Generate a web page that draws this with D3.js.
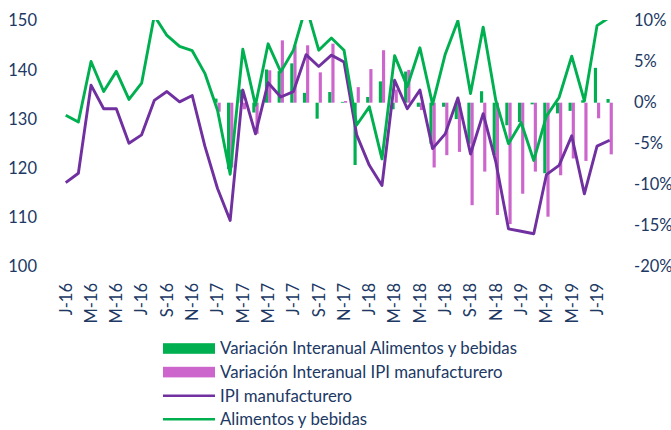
<!DOCTYPE html>
<html>
<head>
<meta charset="utf-8">
<script src="https://cdn.jsdelivr.net/npm/d3@7"></script>
<style>
  body { margin: 0; background: #fff; }
  text { font-family: Lato, "Open Sans", sans-serif; fill: #203864; }
</style>
</head>
<body>
<div id="chart-area"></div>
<script>
// monthly categories, Jan-16 .. Aug-19
var months = ["J-16","F-16","M-16","A-16","M-16","J-16","J-16","A-16","S-16","O-16","N-16","D-16",
              "J-17","F-17","M-17","A-17","M-17","J-17","J-17","A-17","S-17","O-17","N-17","D-17",
              "J-18","F-18","M-18","A-18","M-18","J-18","J-18","A-18","S-18","O-18","N-18","D-18",
              "J-19","F-19","M-19","A-19","M-19","J-19","J-19","A-19"];

// index values (left axis)
var ipi = [117.1,119.0,136.9,132.1,132.1,125.1,126.8,133.8,135.6,133.5,134.8,124.5,
           115.9,109.4,135.9,127.0,137.4,134.5,135.6,143.1,140.7,143.0,141.6,126.8,
           120.6,116.5,137.9,132.1,135.9,124.0,127.0,134.3,122.9,131.1,121.3,107.7,
           107.2,106.7,118.7,120.6,126.6,114.8,124.5,125.7];
var alimentos = [130.8,129.4,141.7,135.6,139.7,134.0,137.3,151.0,147.0,144.8,143.9,139.3,
                 131.8,118.8,144.2,132.8,145.3,139.6,144.0,153.0,144.0,146.5,144.0,128.8,
                 132.5,121.9,142.9,136.6,144.5,133.0,143.2,150.0,135.2,148.7,133.8,125.0,
                 129.3,121.6,130.6,134.4,142.8,133.7,149.0,150.7];

// year-on-year variation in % (right axis), no data for 2016
var varAlimentos = [null,null,null,null,null,null,null,null,null,null,null,null,
                    0.5,-8.1,1.6,-1.2,4.05,3.85,4.8,1.2,-1.95,1.3,0.1,-7.6,
                    0.7,2.6,-0.8,3.8,-0.5,-5.0,-0.5,-2.0,-5.0,1.4,-6.4,-2.75,
                    -2.35,-0.2,-8.6,-1.3,-1.0,0.3,4.25,0.45];
var varIpi = [null,null,null,null,null,null,null,null,null,null,null,null,
              -1.1,-7.9,-0.8,-3.8,3.95,7.6,7.0,7.0,3.7,7.2,0.2,1.9,
              4.1,6.4,1.6,4.0,-0.9,-7.9,-6.4,-6.0,-12.5,-8.4,-13.7,-14.8,
              -11.1,-8.4,-13.9,-8.85,-6.8,-7.1,-1.9,-6.3];

var leftTicks = [100,110,120,130,140,150];
var rightTicks = [-20,-15,-10,-5,0,5,10];

var legendItems = [
  {name: "Variación Interanual Alimentos y bebidas", color: "#00B050", type: "bar"},
  {name: "Variación Interanual IPI manufacturero", color: "#CC66CC", type: "bar"},
  {name: "IPI manufacturero", color: "#7030A0", type: "line"},
  {name: "Alimentos y bebidas", color: "#00B050", type: "line"}
];

var width = 671, height = 430;
var plot = {left: 59.4, right: 616, top: 20.7, bottom: 266.7};

var svg = d3.select("#chart-area").append("svg")
	.attr("width", width)
	.attr("height", height);

var keys = months.map(function(m, i) { return i; });

var x = d3.scaleBand().domain(keys).range([plot.left, plot.right]).padding(0);
var bw = x.bandwidth();
var xSub = d3.scaleBand().domain(["ali","ipi"]).range([bw/4, 3*bw/4]).padding(0);

var yLeft = d3.scaleLinear().domain([100, 150]).range([plot.bottom, plot.top]);
var yRight = d3.scaleLinear().domain([-20, 10]).range([plot.bottom, plot.top]);

svg.append("clipPath").attr("id", "clip")
	.append("rect")
	.attr("x", 0).attr("y", plot.top - 0.7)
	.attr("width", width).attr("height", plot.bottom - plot.top + 10);

// axes
var yAxisL = d3.axisLeft(yLeft).tickValues(leftTicks).tickSize(0).tickPadding(0);
var gl = svg.append("g").attr("transform", "translate(37,0)").call(yAxisL);
gl.select(".domain").remove();
gl.selectAll("text").style("font-size", "16.5px").style("font-family", "Lato").attr("fill", "#203864");

var yAxisR = d3.axisRight(yRight).tickValues(rightTicks).tickSize(0).tickPadding(0)
	.tickFormat(function(d) { return d + "%"; });
var gr = svg.append("g").attr("transform", "translate(634,0)").call(yAxisR);
gr.select(".domain").remove();
gr.selectAll("text").style("font-size", "16.5px").style("font-family", "Lato").attr("fill", "#203864");

var xAxis = d3.axisBottom(x)
	.tickValues(keys.filter(function(i) { return i % 2 === 0; }))
	.tickSize(0).tickPadding(0)
	.tickFormat(function(i) { return months[i]; });
var gx = svg.append("g").attr("transform", "translate(0,283)").call(xAxis);
gx.select(".domain").remove();
gx.selectAll("text")
	.attr("transform", "rotate(-90)")
	.attr("text-anchor", "end")
	.attr("x", 0).attr("y", 0).attr("dy", "0.35em")
	.style("font-size", "16.5px").style("font-family", "Lato").attr("fill", "#203864");

// bars
var bars = svg.append("g");
bars.selectAll("rect.ali")
	.data(keys.filter(function(i) { return varAlimentos[i] !== null; }))
	.enter().append("rect")
	.attr("class", "ali")
	.attr("x", function(i) { return x(i) + xSub("ali"); })
	.attr("width", xSub.bandwidth())
	.attr("y", function(i) { return yRight(Math.max(0, varAlimentos[i])); })
	.attr("height", function(i) { return Math.abs(yRight(varAlimentos[i]) - yRight(0)); })
	.attr("fill", "#00B050");

bars.selectAll("rect.ipi")
	.data(keys.filter(function(i) { return varIpi[i] !== null; }))
	.enter().append("rect")
	.attr("class", "ipi")
	.attr("x", function(i) { return x(i) + xSub("ipi"); })
	.attr("width", xSub.bandwidth())
	.attr("y", function(i) { return yRight(Math.max(0, varIpi[i])); })
	.attr("height", function(i) { return Math.abs(yRight(varIpi[i]) - yRight(0)); })
	.attr("fill", "#CC66CC");

// lines
var line = function(vals) {
	return d3.line()
		.x(function(i) { return x(i) + bw / 2; })
		.y(function(i) { return yLeft(vals[i]); })(keys);
};

var lines = svg.append("g").attr("clip-path", "url(#clip)");
lines.append("path").attr("d", line(ipi))
	.attr("fill", "none").attr("stroke", "#7030A0").attr("stroke-width", 2.9)
	.attr("stroke-linejoin", "round");
lines.append("path").attr("d", line(alimentos))
	.attr("fill", "none").attr("stroke", "#00B050").attr("stroke-width", 2.9)
	.attr("stroke-linejoin", "round");

// legend
var legend = svg.append("g").attr("transform", "translate(163,348.5)");
var row = legend.selectAll("g").data(legendItems).enter().append("g")
	.attr("transform", function(d, i) { return "translate(0," + (i * 23.6) + ")"; });

row.filter(function(d) { return d.type === "bar"; }).append("rect")
	.attr("x", 0).attr("y", -5.3).attr("width", 52).attr("height", 10.6)
	.attr("fill", function(d) { return d.color; });
row.filter(function(d) { return d.type === "line"; }).append("line")
	.attr("x1", 0).attr("x2", 52).attr("y1", 0).attr("y2", 0)
	.attr("stroke", function(d) { return d.color; }).attr("stroke-width", 2.5);
row.append("text")
	.attr("x", 57).attr("y", 0).attr("dy", "0.35em")
	.style("font-size", "16.8px")
	.text(function(d) { return d.name; });
</script>
</body>
</html>
